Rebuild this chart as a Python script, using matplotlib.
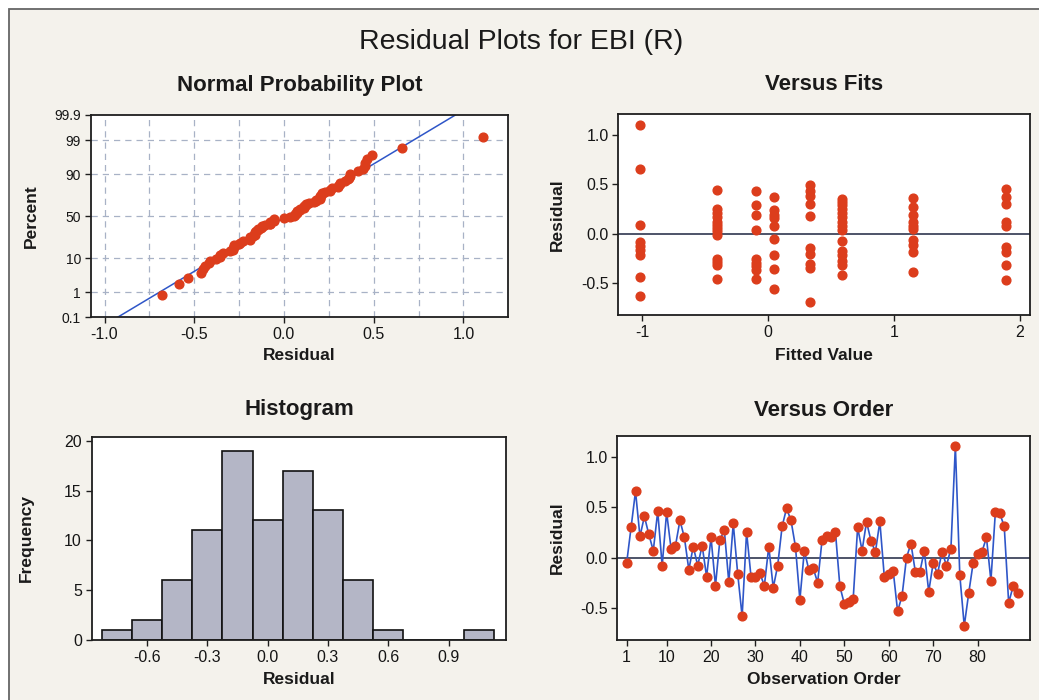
import numpy as np
import matplotlib
matplotlib.use("Agg")
import matplotlib.pyplot as plt
from matplotlib.patches import Rectangle
from statistics import NormalDist

plt.rcParams['font.family'] = ['Liberation Sans', 'DejaVu Sans']
plt.rcParams['axes.unicode_minus'] = False

# ---------------- data ----------------
# residuals in observation order (1..89)
residuals = [
    -0.055, 0.30, 0.66, 0.21, 0.41, 0.23, 0.07, 0.46, -0.08, 0.45,
    0.09, 0.12, 0.37, 0.20, -0.12, 0.11, -0.08, 0.12, -0.19, 0.20,
    -0.28, 0.18, 0.27, -0.245, 0.34, -0.16, -0.585, 0.255, -0.19, -0.19,
    -0.155, -0.28, 0.11, -0.30, -0.08, 0.31, 0.49, 0.37, 0.11, -0.42,
    0.07, -0.12, -0.105, -0.25, 0.18, 0.21, 0.20, 0.255, -0.285, -0.46,
    -0.44, -0.41, 0.30, 0.07, 0.355, 0.17, 0.055, 0.36, -0.19, -0.16,
    -0.13, -0.535, -0.38, 0.0, 0.14, -0.145, -0.145, 0.07, -0.34, -0.055,
    -0.16, 0.06, -0.08, 0.09, 1.11, -0.175, -0.68, -0.355, -0.055, 0.035,
    0.06, 0.20, -0.23, 0.45, 0.44, 0.31, -0.45, -0.285, -0.355,
]

# versus fits: fitted-value levels and the residuals plotted at each level
fit_levels = [-1.015, -0.41, -0.093, 0.05, 0.335, 0.59, 1.15, 1.89]
fit_residuals = [
    [1.094, 0.654, 0.094, -0.08, -0.12, -0.165, -0.215, -0.44, -0.624],
    [0.44, 0.25, 0.21, 0.17, 0.12, 0.09, 0.06, 0.03, -0.01, -0.25, -0.28, -0.315, -0.456],
    [0.43, 0.295, 0.19, 0.04, -0.25, -0.29, -0.33, -0.37, -0.456],
    [0.376, 0.24, 0.195, 0.155, 0.08, -0.054, -0.215, -0.36, -0.56],
    [0.49, 0.43, 0.38, 0.30, 0.178, -0.14, -0.20, -0.305, -0.35, -0.69],
    [0.35, 0.32, 0.29, 0.25, 0.21, 0.17, 0.12, 0.08, 0.04, -0.075, -0.175, -0.215, -0.27, -0.31, -0.415],
    [0.36, 0.27, 0.19, 0.12, 0.08, 0.05, -0.06, -0.11, -0.18, -0.39],
    [0.456, 0.372, 0.305, 0.12, 0.08, -0.13, -0.18, -0.32, -0.463],
]

hist_edges = [-0.825, -0.675, -0.525, -0.375, -0.225, -0.075, 0.075, 0.225,
              0.375, 0.525, 0.675, 0.825, 0.975, 1.125]

prob_ticks = [0.1, 1, 10, 50, 90, 99, 99.9]
prob_ticklabels = ["0.1", "1", "10", "50", "90", "99", "99.9"]
order_ticks = [1, 10, 20, 30, 40, 50, 60, 70, 80]

# ---------------- style ----------------
W, H = 1039, 700
RED = '#dc3d1c'
BLUE = '#2f56c8'
GRIDC = '#a8b2c6'
BG = '#f4f2ec'
DARK = '#1e1e1e'

fig = plt.figure(figsize=(W / 100, H / 100), dpi=100, facecolor='white')
fig.patches.append(Rectangle((9 / W, -0.05), 1.1, 1.05 - 9 / H, transform=fig.transFigure,
                             facecolor=BG, edgecolor='#666666', linewidth=1.3, zorder=-10))


def add_ax(l, t, r, b):
    ax = fig.add_axes([l / W, 1 - b / H, (r - l) / W, (b - t) / H])
    ax.set_facecolor('white')
    for s in ax.spines.values():
        s.set_color(DARK)
        s.set_linewidth(1.3)
    ax.tick_params(direction='out', length=4, width=1, color=DARK,
                   labelsize=11.5, labelcolor='#151515', pad=3)
    return ax


def ftext(x, y, s, **kw):
    fig.text(x / W, 1 - y / H, s, **kw)


ftext(521, 42, "Residual Plots for EBI (R)", ha='center', va='center', fontsize=20.5, color='#1a1a1a')
sub_kw = dict(ha='center', va='center', fontsize=16, fontweight='bold', color='#1a1a1a')
lab_kw = dict(ha='center', va='center', fontsize=12.5, fontweight='bold', color='#1a1a1a')

res = np.array(residuals)
n = len(res)

# ---------------- Normal probability plot ----------------
nd = NormalDist()
ax1 = add_ax(90.7, 115, 508.3, 317.3)
xs = np.sort(res)
pct = (np.arange(1, n + 1) - 0.3) / (n + 0.4)
zs = np.array([nd.inv_cdf(p) for p in pct])
mu, sd = res.mean(), res.std(ddof=1)
zlo, zhi = nd.inv_cdf(0.001), nd.inv_cdf(0.999)
zline = np.array([zlo, zhi])
ax1.set_xlim(-1.077, 1.25)
ax1.set_ylim(zlo, zhi)
yt = [nd.inv_cdf(p / 100) for p in prob_ticks]
ax1.set_yticks(yt)
ax1.set_yticklabels(prob_ticklabels, fontsize=10)
ax1.set_xticks([-1.0, -0.5, 0.0, 0.5, 1.0])
ax1.set_xticklabels(["-1.0", "-0.5", "0.0", "0.5", "1.0"])
for gx in np.arange(-1.0, 1.01, 0.25):
    ax1.axvline(gx, color=GRIDC, lw=0.9, ls=(0, (5, 4)), zorder=1)
for gy in yt[1:-1]:
    ax1.axhline(gy, color=GRIDC, lw=0.9, ls=(0, (5, 4)), zorder=1)
ax1.plot(mu + sd * zline, zline, color=BLUE, lw=1.1, zorder=2)
ax1.plot(xs, zs, 'o', color=RED, ms=6.3, mec=RED, zorder=3, clip_on=False)
ftext(299.5, 86, "Normal Probability Plot", **sub_kw)
ftext(299.5, 355, "Residual", **lab_kw)
ftext(31, 216, "Percent", rotation=90, **lab_kw)

# ---------------- Versus fits ----------------
ax2 = add_ax(618.3, 114, 1030, 315)
for lvl, vals in zip(fit_levels, fit_residuals):
    ax2.plot([lvl] * len(vals), vals, 'o', color=RED, ms=6.3, mec=RED, zorder=3)
ax2.axhline(0, color='#1c2540', lw=1.1, zorder=2)
ax2.set_xlim(-1.19, 2.08)
ax2.set_ylim(-0.82, 1.21)
ax2.set_xticks([-1, 0, 1, 2])
ax2.set_yticks([-0.5, 0.0, 0.5, 1.0])
ax2.set_yticklabels(["-0.5", "0.0", "0.5", "1.0"])
ftext(824, 85, "Versus Fits", **sub_kw)
ftext(824, 355, "Fitted Value", **lab_kw)
ftext(557, 215, "Residual", rotation=90, **lab_kw)

# ---------------- Histogram ----------------
ax3 = add_ax(91.7, 436.7, 506, 640)
ax3.hist(res, bins=hist_edges, color='#b4b6c6', edgecolor='#111111', linewidth=1.2, zorder=2)
ax3.set_xlim(-0.876, 1.186)
ax3.set_ylim(0, 20.4)
ax3.set_xticks([-0.6, -0.3, 0.0, 0.3, 0.6, 0.9])
ax3.set_xticklabels(["-0.6", "-0.3", "0.0", "0.3", "0.6", "0.9"])
ax3.set_yticks([0, 5, 10, 15, 20])
ftext(299, 410, "Histogram", **sub_kw)
ftext(299, 680, "Residual", **lab_kw)
ftext(26, 538, "Frequency", rotation=90, **lab_kw)

# ---------------- Versus order ----------------
ax4 = add_ax(617.3, 436, 1030, 640)
obs = np.arange(1, n + 1)
ax4.axhline(0, color='#1c2540', lw=1.1, zorder=1)
ax4.plot(obs, res, '-', color=BLUE, lw=1.2, zorder=2)
ax4.plot(obs, res, 'o', color=RED, ms=6.3, mec=RED, zorder=3)
ax4.set_xlim(-1.1, 91.8)
ax4.set_ylim(-0.82, 1.21)
ax4.set_xticks(order_ticks)
ax4.set_yticks([-0.5, 0.0, 0.5, 1.0])
ax4.set_yticklabels(["-0.5", "0.0", "0.5", "1.0"])
ftext(824, 410, "Versus Order", **sub_kw)
ftext(824, 680, "Observation Order", **lab_kw)
ftext(557, 538, "Residual", rotation=90, **lab_kw)

fig.savefig("out.png", dpi=100, facecolor=fig.get_facecolor())
